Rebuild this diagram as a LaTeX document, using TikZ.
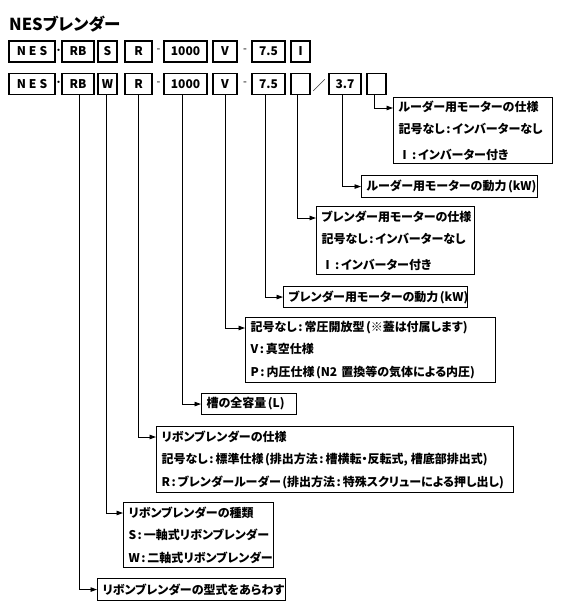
\documentclass[tikz,border=0pt]{standalone}
\usepackage{fontspec}
\setmainfont{Noto Sans CJK JP}[RawFeature=+palt]
\usetikzlibrary{arrows.meta}
\newcommand\cln{\kern1.5pt:\kern2pt}
\newcommand\lp{\kern1.5pt(}
\tikzset{
  codebox/.style={draw, line width=1.1pt, minimum height=21pt, inner sep=0pt, font=\fontsize{12}{14}\selectfont\bfseries},
  sepch/.style={inner sep=0pt, font=\fontsize{11}{13}\selectfont},
  descbox/.style={draw, line width=1.1pt, anchor=north west, align=left, inner xsep=5pt, inner ysep=2pt, font=\fontsize{12}{22.5}\selectfont\bfseries},
  conn/.style={line width=0.9pt, -{Triangle[length=6.5pt,width=4.5pt]}},
}
\begin{document}
\begin{tikzpicture}[x=1pt,y=-1pt]
\useasboundingbox (0,0) rectangle (560,607);
\node[anchor=west, inner sep=0pt, font=\fontsize{16.5}{20}\selectfont\bfseries] (title) at (9,24) {NESブレンダー};
% row 1
\node[codebox, minimum width=46pt] (nes1) at (32,51.5) {N\kern3pt E\kern3pt S};
\node[sepch] (dot1) at (58.5,51.5) {・};
\node[codebox, minimum width=32pt] (rb1) at (78,51.5) {RB};
\node[codebox, minimum width=19pt] (s1) at (107.5,51.5) {S};
\node[codebox, minimum width=27pt] (r1) at (138.5,51.5) {R};
\node[sepch] (da1) at (158.5,51) {-};
\node[codebox, minimum width=43pt] (c1) at (185.5,51.5) {1000};
\node[codebox, minimum width=24pt] (v1) at (225,51.5) {V};
\node[sepch] (db1) at (245,51) {-};
\node[codebox, minimum width=33pt] (p1) at (268.5,51.5) {7.5};
\node[codebox, minimum width=19pt] (i1) at (300.5,51.5) {Ⅰ};
% row 2
\node[codebox, minimum width=46pt] (nes2) at (32,84) {N\kern3pt E\kern3pt S};
\node[sepch] (dot2) at (58.5,84) {・};
\node[codebox, minimum width=32pt] (rb2) at (78,84) {RB};
\node[codebox, minimum width=19pt] (w2) at (107.5,84) {W};
\node[codebox, minimum width=27pt] (r2) at (138.5,84) {R};
\node[sepch] (da2) at (158.5,83.5) {-};
\node[codebox, minimum width=43pt] (c2) at (185.5,84) {1000};
\node[codebox, minimum width=24pt] (v2) at (225,84) {V};
\node[sepch] (db2) at (245,83.5) {-};
\node[codebox, minimum width=33pt] (p2) at (268.5,84) {7.5};
\node[codebox, minimum width=19pt] (e2) at (300.5,84) {};
\node[sepch, font=\fontsize{13}{15}\selectfont] (sl2) at (319,86) {／};
\node[codebox, minimum width=32pt] (q2) at (345,84) {3.7};
\node[codebox, minimum width=19pt] (f2) at (376.5,84) {};
% description boxes
\node[descbox, text width=149pt, minimum height=66pt] (dA) at (393,97) {ルーダー用モーターの仕様\\記号なし\cln インバーターなし\\\kern3pt Ⅰ\cln インバーター付き};
\node[descbox, text width=166pt, minimum height=22pt] (dB) at (361,175) {ルーダー用モーターの動力\lp kW)};
\node[descbox, text width=148pt, minimum height=68pt] (dC) at (316,206) {ブレンダー用モーターの仕様\\記号なし\cln インバーターなし\\\kern3pt Ⅰ\cln インバーター付き};
\node[descbox, text width=174pt, minimum height=21pt] (dD) at (283,286) {ブレンダー用モーターの動力\lp kW)};
\node[descbox, text width=240pt, minimum height=65pt] (dE) at (245,317) {記号なし\cln 常圧開放型\lp ※蓋は付属します)\\V\cln 真空仕様\\P\cln 内圧仕様\lp N2 置換等の気体による内圧)};
\node[descbox, text width=85pt, minimum height=21pt] (dF) at (201,393) {槽の全容量\lp L)};
\node[descbox, text width=347pt, minimum height=66pt] (dG) at (156,426) {リボンブレンダーの仕様\\記号なし\cln 標準仕様\lp 排出方法\cln 槽横転・反転式,\kern3pt 槽底部排出式)\\R\cln ブレンダールーダー\lp 排出方法\cln 特殊スクリューによる押し出し)};
\node[descbox, text width=140pt, minimum height=65pt] (dH) at (123,502) {リボンブレンダーの種類\\S\cln 一軸式リボンブレンダー\\W\cln 二軸式リボンブレンダー};
\node[descbox, text width=178pt, minimum height=22pt] (dI) at (97,578) {リボンブレンダーの型式をあらわす};
% connectors
\draw[conn] ([xshift=-2pt]f2.south) |- ([yshift=-11pt]dA.north west);
\draw[conn] ([xshift=-3pt]q2.south) |- (dB.west);
\draw[conn] ([xshift=-3pt]e2.south) |- ([yshift=-12pt]dC.north west);
\draw[conn] ([xshift=-3pt]p2.south) |- (dD.west);
\draw[conn] (v2.south) |- ([yshift=-11pt]dE.north west);
\draw[conn] ([xshift=-3pt]c2.south) |- (dF.west);
\draw[conn] (r2.south) |- ([yshift=-11pt]dG.north west);
\draw[conn] ([xshift=-1pt]w2.south) |- ([yshift=-11pt]dH.north west);
\draw[conn] ([xshift=1pt]rb2.south) |- (dI.west);
\end{tikzpicture}
\end{document}
